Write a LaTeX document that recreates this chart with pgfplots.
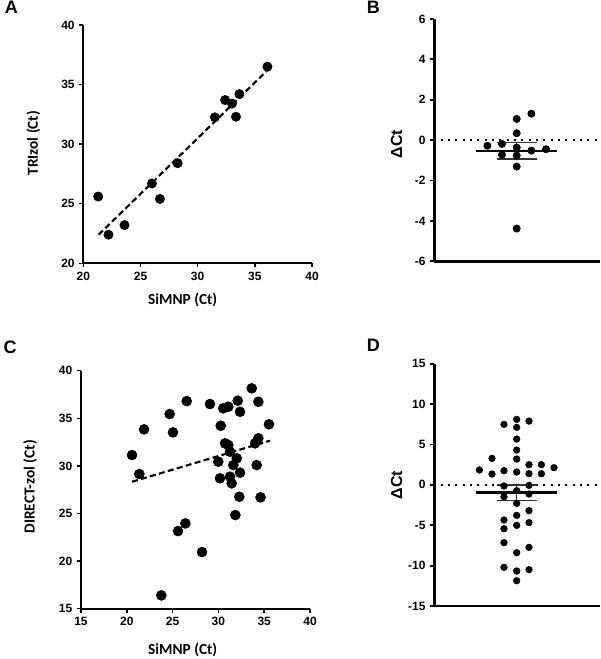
\documentclass[border=0pt]{standalone}
\usepackage{fontspec}
\setmainfont{Liberation Sans}
\newfontfamily\carlito{Carlito}
\usepackage{pgfplots}
\pgfplotsset{compat=1.18}
\begin{document}
\begin{tikzpicture}
\path[use as bounding box] (0,0) rectangle (450pt,494.25pt);
\pgfplotsset{
  panel/.style={scale only axis, axis x line=bottom, axis y line=left,
    axis line style={-, line width=1.3pt, black},
    tick style={line width=1.1pt, black}, tick align=outside, major tick length=3pt,
    ticklabel style={font=\fontsize{9}{10}\selectfont\bfseries},
    /pgf/number format/assume math mode=true, clip=false, anchor=south west},
  dots/.style={only marks, mark=*, mark size=#1, mark options={fill=black, draw=black}},
  fitline/.style={black, line width=1.6pt, dash pattern=on 4.5pt off 2.5pt},
}
% Panel A
\begin{axis}[panel, at={(62.5pt,296.8pt)}, width=171.5pt, height=178.7pt,
  xmin=20, xmax=40, ymin=20, ymax=40, xtick={20,25,...,40}, ytick={20,25,...,40}]
\addplot[dots=3.5pt] coordinates {(21.3,25.6) (22.2,22.4) (23.6,23.2) (26.0,26.7) (26.7,25.4) (28.25,28.4) (31.5,32.25) (32.4,33.7) (33.0,33.4) (33.35,32.3) (33.65,34.2) (36.1,36.5)};
\addplot[fitline] coordinates {(21.34,22.4) (36.0,36.1)};
\end{axis}
% Panel B
\begin{axis}[panel, at={(325.7pt,298.3pt)}, width=124.3pt, height=181.7pt,
  axis line style={-, line width=2pt, black}, tick style={line width=1.4pt, black},
  xmin=-82.4, xmax=83.3, ymin=-6, ymax=6, xtick=\empty, ytick={-6,-4,...,6}]
\addplot[black, line width=1.5pt, dash pattern=on 1.5pt off 4pt] coordinates {(-76,0) (83.3,0)};
\addplot[dots=2.75pt] coordinates {(14.7,1.31) (0,1.05) (0,0.34) (-29.3,-0.28) (-14.7,-0.19) (0,-0.37) (14.7,-0.52) (29.3,-0.45) (-14.7,-0.72) (0,-0.76) (0,-1.31) (0,-4.38)};
\addplot[black, line width=2pt] coordinates {(-40.8,-0.54) (40.8,-0.54)};
\addplot[black!80, line width=1.1pt] coordinates {(-20,-0.12) (20,-0.12)};
\addplot[black!80, line width=1.1pt] coordinates {(-20,-0.94) (20,-0.94)};
\addplot[black!80, line width=1.1pt] coordinates {(0,-0.12) (0,-0.94)};
\end{axis}
% Panel C
\begin{axis}[panel, at={(60.75pt,37.7pt)}, width=171.75pt, height=178.5pt,
  xmin=15, xmax=40, ymin=15, ymax=40, xtick={15,20,...,40}, ytick={15,20,...,40}]
\addplot[dots=3.75pt] coordinates {(20.57,31.14) (21.37,29.15) (21.88,33.84) (24.68,35.45) (25.04,33.52) (26.54,36.81) (25.59,23.16) (26.39,23.96) (28.21,20.95) (23.77,16.4)
(33.64,38.15) (34.36,36.74) (32.11,36.85) (32.36,35.69) (30.53,36.05) (31.08,36.22) (29.08,36.5) (30.25,34.22) (35.52,34.37) (30.72,32.37) (31.08,32.2) (34.36,32.9) (34.0,32.37) (31.27,31.49) (32.0,30.8) (29.99,30.44) (31.63,30.09) (34.18,30.09) (32.36,29.29) (30.17,28.7) (31.27,28.87) (31.45,28.17) (32.28,26.76) (34.6,26.7) (31.85,24.84)};
\addplot[fitline] coordinates {(20.57,28.34) (35.63,32.65)};
\end{axis}
% Panel D
\begin{axis}[panel, at={(325.7pt,39.75pt)}, width=124.3pt, height=181.7pt,
  axis line style={-, line width=2pt, black}, tick style={line width=1.4pt, black},
  xmin=-82.4, xmax=83.3, ymin=-15, ymax=15, xtick=\empty, ytick={-15,-10,...,15}]
\addplot[black, line width=1.5pt, dash pattern=on 1.5pt off 4pt] coordinates {(-76,0) (83.3,0)};
\addplot[dots=2.5pt] coordinates {(0,8.11) (-12.7,7.49) (12.3,7.9) (0,7.12) (0,5.67) (0,4.31) (-24.7,3.28) (0,3.2) (12.3,2.5) (24.7,2.5) (37.3,2.13) (-37.3,1.84) (-12.7,1.75) (0,1.59) (-24.7,1.34) (12.3,1.38) (24.7,1.38) (-12.7,-0.14) (12.3,-0.06) (0,-0.72) (-12.7,-1.47) (12.3,-1.13) (0,-2.29) (12.3,-3.2) (0,-3.78) (-12.7,-4.35) (12.3,-4.68) (0,-5.01) (-12.7,-5.43) (-12.7,-7.16) (12.3,-7.74) (0,-8.4) (-12.7,-10.21) (12.3,-10.5) (0,-10.67) (0,-11.87)};
\addplot[black, line width=2pt] coordinates {(-40.8,-0.97) (40.8,-0.97)};
\addplot[black!80, line width=1.1pt] coordinates {(-20,-0.02) (20,-0.02)};
\addplot[black!80, line width=1.1pt] coordinates {(-20,-1.92) (20,-1.92)};
\addplot[black!80, line width=1.1pt] coordinates {(0,-0.02) (0,-1.92)};
\end{axis}
% Labels
\node[font=\fontsize{13.5}{14}\selectfont\bfseries] at (8.5pt,488.5pt) {A};
\node[font=\fontsize{13.5}{14}\selectfont\bfseries] at (280pt,488.5pt) {B};
\node[font=\fontsize{13.5}{14}\selectfont\bfseries] at (7.5pt,234pt) {C};
\node[font=\fontsize{13.5}{14}\selectfont\bfseries] at (280pt,235pt) {D};
\node[font=\carlito\bfseries\fontsize{11.5}{12}\selectfont] at (137pt,269.25pt) {SiMNP (Ct)};
\node[rotate=90, font=\carlito\bfseries\fontsize{11.5}{12}\selectfont] at (25pt,386.8pt) {TRIzol (Ct)};
\node[font=\carlito\bfseries\fontsize{11.5}{12}\selectfont] at (137pt,7pt) {SiMNP (Ct)};
\node[rotate=90, font=\carlito\bfseries\fontsize{11.5}{12}\selectfont] at (22.5pt,129.2pt) {DIRECT-zol (Ct)};
\node[rotate=90, font=\fontsize{12}{13}\selectfont\bfseries] at (297.5pt,386.25pt) {ΔCt};
\node[rotate=90, font=\fontsize{12}{13}\selectfont\bfseries] at (297.5pt,130.5pt) {ΔCt};
\end{tikzpicture}
\end{document}
